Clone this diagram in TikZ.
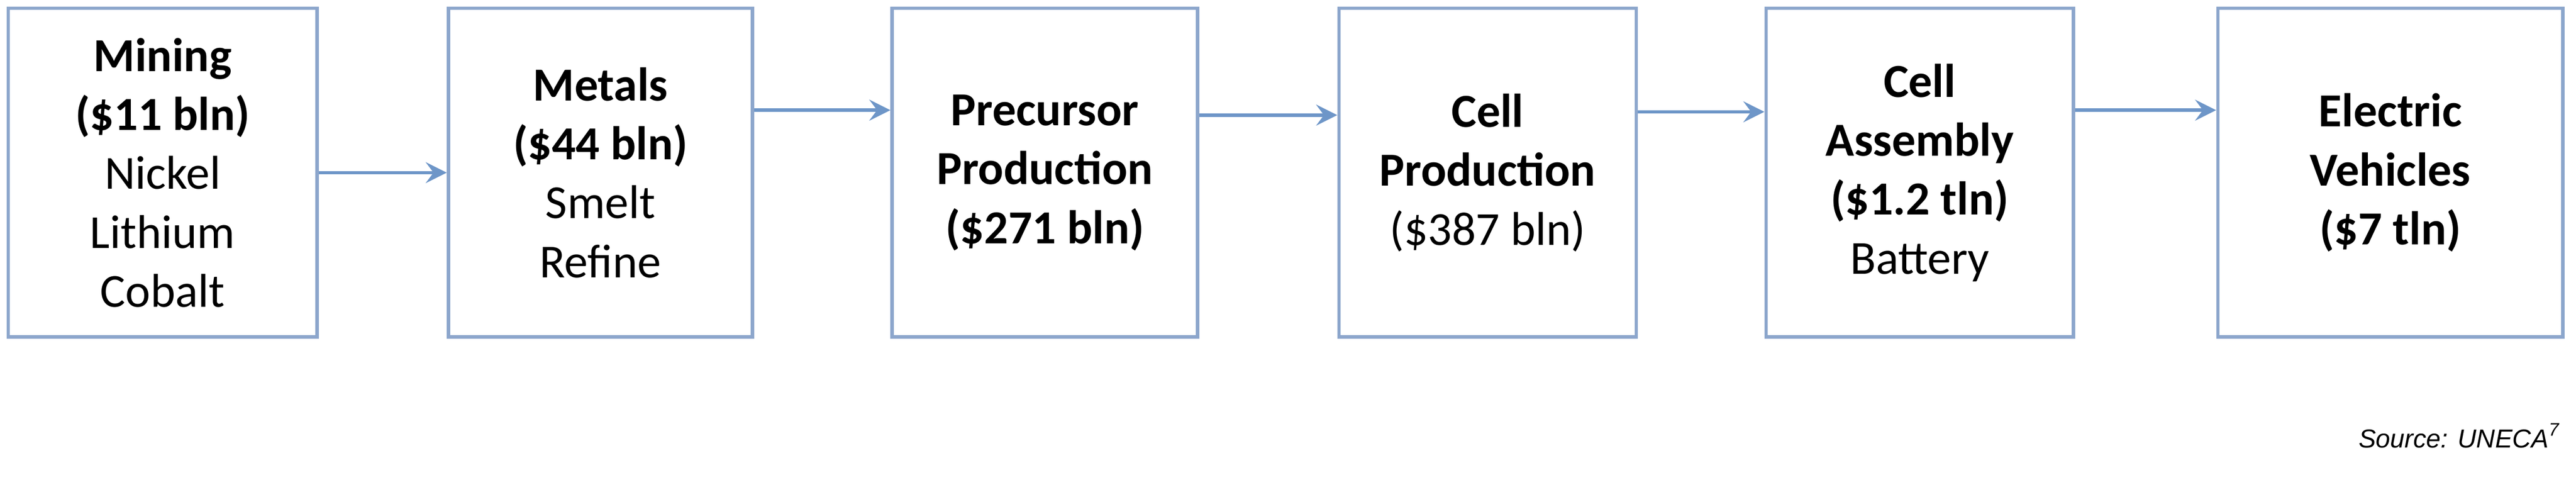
\documentclass[tikz,border=0pt]{standalone}
\usepackage{fontspec}
\setmainfont{Carlito}
\newfontfamily\srcfont{Liberation Sans}
\definecolor{boxblue}{RGB}{140,166,204}
\definecolor{arrowblue}{RGB}{110,150,200}
\tikzset{
  stage/.style={draw=boxblue,line width=0.6pt,minimum height=2cm,align=center,
    font=\fontsize{8.2}{10.2}\selectfont,inner sep=0pt},
  flow/.style={-stealth,draw=arrowblue,line width=0.6pt}
}
\begin{document}
\begin{tikzpicture}
\useasboundingbox (0,0) rectangle (15.68,-3.02);

\node [stage,minimum width=1.88cm] (mining) at (0.99,-1.05)
  {\textbf{Mining}\\\textbf{(\$11 bln)}\\Nickel\\Lithium\\Cobalt};
\node [stage,minimum width=1.85cm] (metals) at (3.655,-1.05)
  {\textbf{Metals}\\\textbf{(\$44 bln)}\\Smelt\\Refine};
\node [stage,minimum width=1.86cm] (precursor) at (6.36,-1.05)
  {\textbf{Precursor}\\\textbf{Production}\\\textbf{(\$271 bln)}};
\node [stage,minimum width=1.81cm] (cellprod) at (9.055,-1.05)
  {\textbf{Cell}\\\textbf{Production}\\(\$387 bln)};
\node [stage,minimum width=1.87cm] (cellasm) at (11.685,-1.05)
  {\textbf{Cell}\\\textbf{Assembly}\\\textbf{(\$1.2 tln)}\\Battery};
\node [stage,minimum width=2.1cm] (ev) at (14.55,-1.05)
  {\textbf{Electric}\\\textbf{Vehicles}\\\textbf{(\$7 tln)}};

\draw [flow] (mining.east) -- (metals.west);
\draw [flow] ([yshift=0.38cm]metals.east) -- ([yshift=0.38cm]precursor.west);
\draw [flow] ([yshift=0.35cm]precursor.east) -- ([yshift=0.35cm]cellprod.west);
\draw [flow] ([yshift=0.37cm]cellprod.east) -- ([yshift=0.37cm]cellasm.west);
\draw [flow] ([yshift=0.38cm]cellasm.east) -- ([yshift=0.38cm]ev.west);

\node [anchor=east,inner sep=0pt,font=\srcfont\itshape\fontsize{4.5}{5}\selectfont] (source) at (15.6,-2.65)
  {Source: UNECA\textsuperscript{7}};
\end{tikzpicture}
\end{document}
